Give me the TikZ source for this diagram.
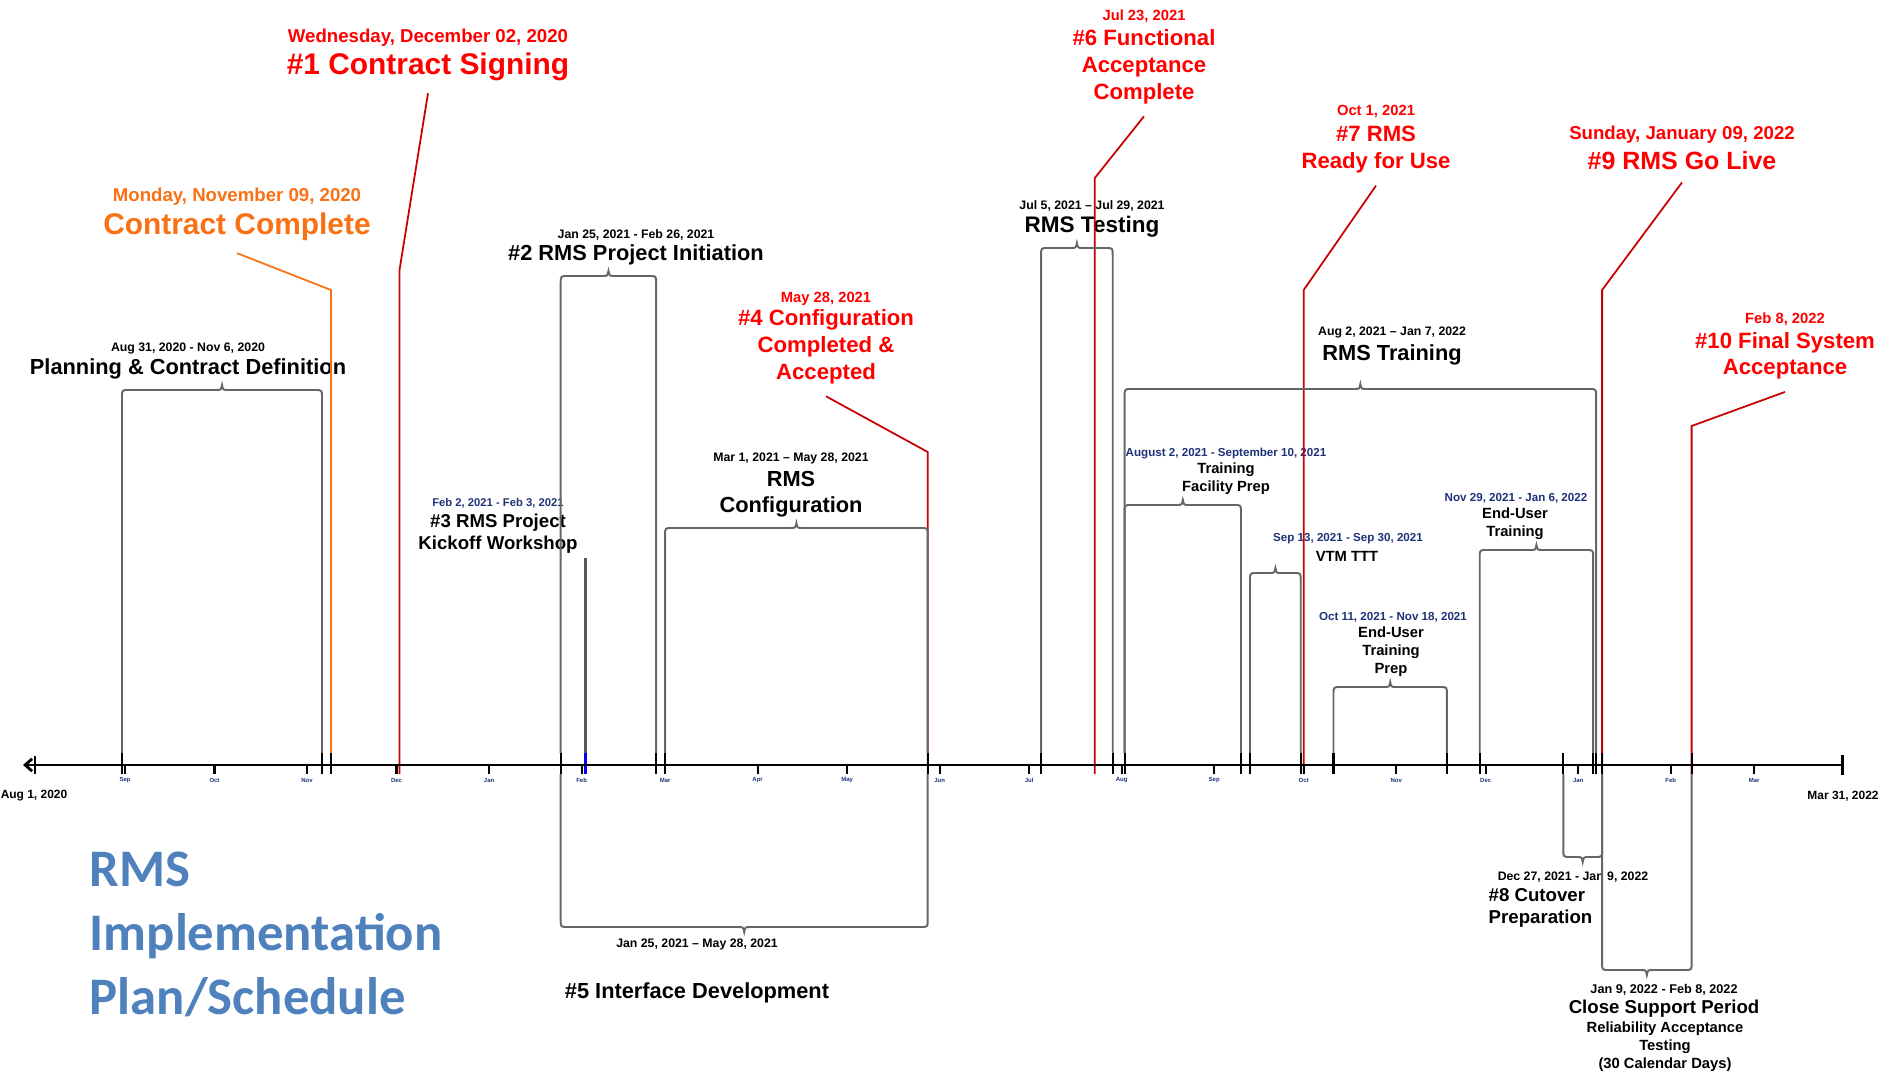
\documentclass[tikz,border=0pt]{standalone}
\usepackage{fontspec}
\setmainfont{Liberation Sans}
\newfontfamily\titlefont{Carlito}
\usetikzlibrary{arrows.meta}

\definecolor{msred}{RGB}{255,0,0}
\definecolor{msline}{RGB}{200,0,0}
\definecolor{msorange}{RGB}{250,112,20}
\definecolor{subnavy}{RGB}{30,50,120}
\definecolor{planblue}{RGB}{79,129,189}

% task bracket above the axis: start x, end x, top y
\newcommand{\taskbraceup}[3]{%
  \draw[brace] (#1,753) -- (#1,#3+7) .. controls (#1,#3) .. (#1+7,#3)
    -- ({(#1+#2)/2-6},#3) .. controls ({(#1+#2)/2-1},#3) .. ({(#1+#2)/2},#3-5)
    .. controls ({(#1+#2)/2+1},#3) .. ({(#1+#2)/2+6},#3)
    -- (#2-7,#3) .. controls (#2,#3) .. (#2,#3+7) -- (#2,753);
  \draw[endtick] (#1,753) -- (#1,774) (#2,753) -- (#2,774);}
% task bracket below the axis: start x, end x, bottom y
\newcommand{\taskbracedown}[3]{%
  \draw[brace] (#1,774) -- (#1,#3-7) .. controls (#1,#3) .. (#1+7,#3)
    -- ({(#1+#2)/2-6},#3) .. controls ({(#1+#2)/2-1},#3) .. ({(#1+#2)/2},#3+5)
    .. controls ({(#1+#2)/2+1},#3) .. ({(#1+#2)/2+6},#3)
    -- (#2-7,#3) .. controls (#2,#3) .. (#2,#3-7) -- (#2,774);
  \draw[endtick] (#1,753) -- (#1,774) (#2,753) -- (#2,774);}

\begin{document}
\begin{tikzpicture}[
    x=0.01cm, y=-0.01cm,
    lowered/.style={yshift=-0.8pt},
    msdate/.style={lowered, text=msred, font=\bfseries\fontsize{5.3}{6.3}\selectfont},
    msdatesm/.style={lowered, text=msred, font=\bfseries\fontsize{4.2}{5}\selectfont},
    msbig/.style={lowered, text=msred, font=\bfseries\fontsize{8.5}{10}\selectfont},
    msmid/.style={lowered, text=msred, font=\bfseries\fontsize{7.1}{8.5}\selectfont},
    mstitle/.style={lowered, text=msred, align=center, font=\bfseries\fontsize{6.3}{7.6}\selectfont},
    taskdate/.style={lowered, font=\bfseries\fontsize{3.5}{4.2}\selectfont},
    tasktitle/.style={lowered, align=center, font=\bfseries\fontsize{6.2}{7.4}\selectfont},
    subdate/.style={yshift=-0.3pt, text=subnavy, font=\bfseries\fontsize{3.3}{4}\selectfont},
    subtitle/.style={yshift=-0.3pt, align=center, font=\bfseries\fontsize{4.2}{5.1}\selectfont},
    smalltitle/.style={lowered, align=center, font=\bfseries\fontsize{5.3}{6.4}\selectfont},
    month/.style={text=subnavy, inner sep=0pt, font=\bfseries\fontsize{1.7}{2}\selectfont},
    axisdate/.style={font=\bfseries\fontsize{3.4}{4}\selectfont},
    plantitle/.style={align=left, text=planblue, inner sep=0pt, font=\titlefont\bfseries\fontsize{15}{18.2}\selectfont},
    brace/.style={draw=black!60, line width=0.55pt},
    endtick/.style={black, line width=0.6pt},
    monthtick/.style={black, line width=0.6pt},
    msconn/.style={msline, line width=0.5pt},
    axisline/.style={black, line width=0.8pt}
]
\useasboundingbox (0,0) rectangle (1882,1073);

% milestones
\node[msdate, text=msorange] (cc-date) at (237,194) {Monday, November 09, 2020};
\node[msbig, text=msorange] (cc) at (237,224) {Contract Complete};
\node[msdate] (ms1-date) at (428,35) {Wednesday, December 02, 2020};
\node[msbig] (ms1) at (428,64) {\#1 Contract Signing};
\node[msdatesm] (ms4-date) at (826,296) {May 28, 2021};
\node[mstitle] (ms4) at (826,344) {\#4 Configuration\\Completed \&\\Accepted};
\node[msdatesm] (ms6-date) at (1144,13) {Jul 23, 2021};
\node[mstitle] (ms6) at (1144,64) {\#6 Functional\\Acceptance\\Complete};
\node[msdatesm] (ms7-date) at (1376,109) {Oct 1, 2021};
\node[mstitle] (ms7) at (1376,147) {\#7 RMS\\Ready for Use};
\node[msdate] (ms9-date) at (1682,132) {Sunday, January 09, 2022};
\node[msmid] (ms9) at (1682,158) {\#9 RMS Go Live};
\node[msdatesm] (ms10-date) at (1785,316) {Feb 8, 2022};
\node[mstitle] (ms10) at (1785,353) {\#10 Final System\\Acceptance};

% tasks
\node[taskdate] (plan-date) at (188,346) {Aug 31, 2020 - Nov 6, 2020};
\node[tasktitle] (plan) at (188,366) {Planning \& Contract Definition};
\node[taskdate] (init-date) at (636,232) {Jan 25, 2021 - Feb 26, 2021};
\node[tasktitle] (init) at (636,252) {\#2 RMS Project Initiation};
\node[subdate, font=\bfseries\fontsize{3.2}{4}\selectfont] (kick-date) at (498,502) {Feb 2, 2021 - Feb 3, 2021};
\node[smalltitle] (kick) at (498,531) {\#3 RMS Project\\Kickoff Workshop};
\node[taskdate] (conf-date) at (791,456) {Mar 1, 2021 – May 28, 2021};
\node[tasktitle] (conf) at (791,491) {RMS\\Configuration};
\node[taskdate] (test-date) at (1092,203) {Jul 5, 2021 – Jul 29, 2021};
\node[tasktitle, font=\bfseries\fontsize{6.4}{7.6}\selectfont] (test) at (1092,224) {RMS Testing};
\node[taskdate] (train-date) at (1392,330) {Aug 2, 2021 – Jan 7, 2022};
\node[tasktitle] (train) at (1392,352) {RMS Training};
\node[subdate] (fac-date) at (1226,452) {August 2, 2021 - September 10, 2021};
\node[subtitle] (fac) at (1226,478) {Training\\Facility Prep};
\node[subdate] (vtm-date) at (1348,538) {Sep 13, 2021 - Sep 30, 2021};
\node[subtitle] (vtm) at (1347,555) {VTM TTT};
\node[subdate] (eup-date) at (1393,616) {Oct 11, 2021 - Nov 18, 2021};
\node[subtitle] (eup) at (1391,651) {End-User\\Training\\Prep};
\node[subdate] (eut-date) at (1516,497) {Nov 29, 2021 - Jan 6, 2022};
\node[subtitle] (eut) at (1515,523) {End-User\\Training};
\node[taskdate] (intf-date) at (697,942) {Jan 25, 2021 – May 28, 2021};
\node[tasktitle] (intf) at (697,990) {\#5 Interface Development};
\node[taskdate] (cut-date) at (1573,874) {Dec 27, 2021 - Jan 9, 2022};
\node[smalltitle, align=left, anchor=west, inner sep=0pt] (cut) at (1488,905) {\#8 Cutover\\Preparation};
\node[taskdate, font=\bfseries\fontsize{3.6}{4.3}\selectfont] (csp-date) at (1664,987) {Jan 9, 2022 - Feb 8, 2022};
\node[smalltitle] (csp) at (1664,1006) {Close Support Period};
\node[subtitle] (csp-note) at (1665,1046) {Reliability Acceptance\\Testing\\(30 Calendar Days)};

% title
\node[plantitle, anchor=west] (title) at (89,934.5) {RMS\\Implementation\\Plan/Schedule};

% milestone leaders
\coordinate (cc-x) at (330.9,753);   \coordinate (cc-bend) at (330.9,290);
\coordinate (ms1-x) at (399.5,774);  \coordinate (ms1-bend) at (399.5,270);
\coordinate (ms4-x) at (927.7,774);  \coordinate (ms4-bend) at (927.7,452);
\coordinate (ms6-x) at (1094.8,774); \coordinate (ms6-bend) at (1094.8,178);
\coordinate (ms7-x) at (1303.7,774); \coordinate (ms7-bend) at (1303.7,290);
\coordinate (ms9-x) at (1602.1,774); \coordinate (ms9-bend) at (1602.1,290);
\coordinate (ms10-x) at (1691.6,774); \coordinate (ms10-bend) at (1691.6,426);
\draw[msconn, msorange] (cc-x) -- (cc-bend) -- (cc.south);
\draw[endtick] (330.9,753) -- (330.9,774);
\foreach \m in {ms1,ms4,ms6,ms7,ms9,ms10}
  \draw[msconn] (\m-x) -- (\m-bend) -- (\m.south);

% task brackets
\taskbraceup{122}{322}{390}
\taskbraceup{560.7}{656.2}{276}
\taskbraceup{665.1}{927.7}{528}
\taskbraceup{1041.1}{1112.7}{248}
\taskbraceup{1124.6}{1596.1}{389}
\taskbraceup{1124.6}{1241.0}{505}
\taskbraceup{1250.0}{1300.7}{573}
\taskbraceup{1333.5}{1446.9}{687}
\taskbraceup{1479.7}{1593.1}{550}
\taskbracedown{560.7}{927.7}{927}
\taskbracedown{1563.3}{1602.1}{857}
\taskbracedown{1602.1}{1691.6}{970}

% kickoff workshop (one day)
\draw[black!65, line width=1.1pt] (585.5,558) -- (585.5,753);
\draw[blue, line width=1.1pt] (585.5,753) -- (585.5,774);

% time axis
\coordinate (axl) at (23,765);
\coordinate (axr) at (1844,765);
\draw[axisline, {Straight Barb[length=2pt,width=3.5pt]Bar[width=5pt]}-{Bar[width=5.5pt]}] (axl) -- (axr);
\foreach \mx/\mn [count=\i] in {125.0/Sep,214.5/Oct,307.0/Nov,396.5/Dec,489.1/Jan,581.6/Feb,665.1/Mar,757.6/Apr,847.1/May,939.6/Jun,1029.2/Jul,1121.7/Aug,1214.2/Sep,1303.7/Oct,1396.2/Nov,1485.7/Dec,1578.2/Jan,1670.7/Feb,1754.2/Mar}{
  \draw[monthtick] (\mx,765) -- (\mx,774);
  \node[month] (mon\i) at (\mx,780) {\mn};
}
\node[axisdate] (start-date) at (34,796) {Aug 1, 2020};
\node[axisdate] (end-date) at (1843,796) {Mar 31, 2022};

\end{tikzpicture}
\end{document}
